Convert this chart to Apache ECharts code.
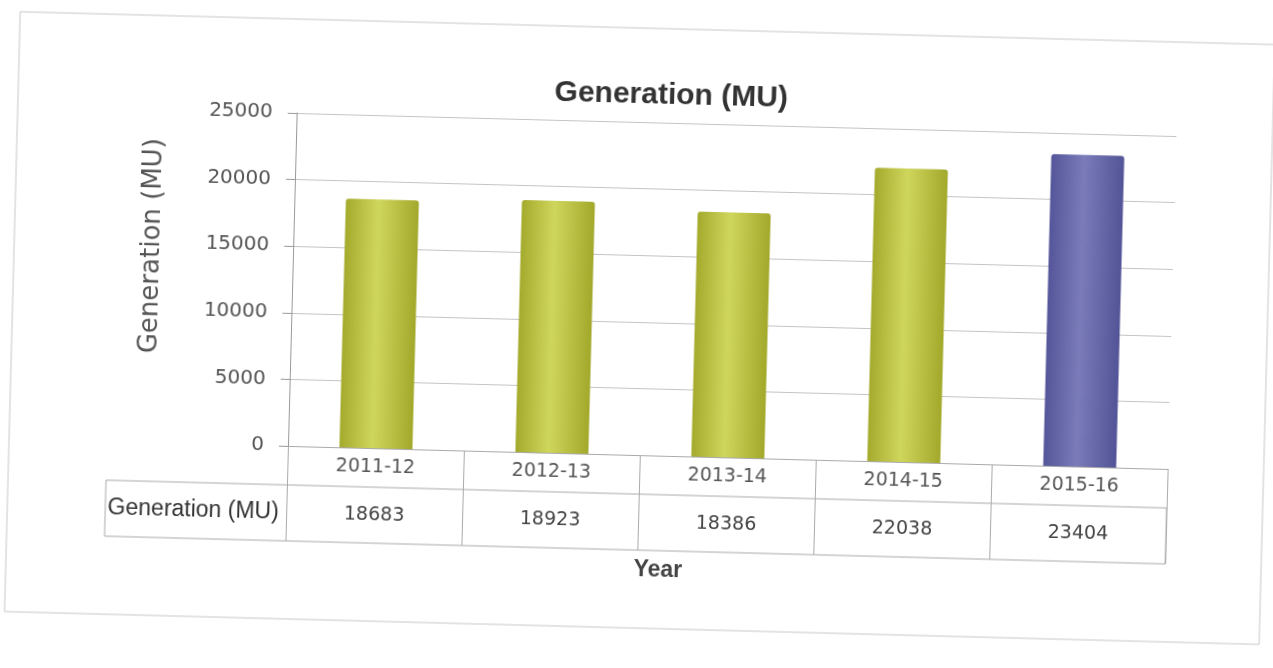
<!DOCTYPE html>
<html>
<head>
<meta charset="utf-8">
<script src="https://cdn.jsdelivr.net/npm/echarts@6/dist/echarts.min.js"></script>
<style>
    html, body { margin: 0; padding: 0; background: #fff; overflow: hidden; }
    #grafico {
        width: 1273px;
        height: 668px;
        transform: rotate(1.5deg);
        transform-origin: 50% 50%;
    }
</style>
</head>
<body>
<div id="grafico"></div>
<script>
const anios = ["2011-12", "2012-13", "2013-14", "2014-15", "2015-16"];
const generacion = [18683, 18923, 18386, 22038, 23404];
const ejeY = { min: 0, max: 25000, interval: 5000 };

const verde = new echarts.graphic.LinearGradient(0, 0, 1, 0, [
    { offset: 0, color: "#a4aa2c" },
    { offset: 0.45, color: "#cfd65c" },
    { offset: 1, color: "#a2a82a" }
]);
const morado = new echarts.graphic.LinearGradient(0, 0, 1, 0, [
    { offset: 0, color: "#55569a" },
    { offset: 0.45, color: "#7a7bb8" },
    { offset: 1, color: "#535497" }
]);

const barras = generacion.map(function(v, i) {
    return {
        value: v,
        itemStyle: { color: i === anios.length - 1 ? morado : verde }
    };
});

const grafico = echarts.init(document.getElementById("grafico"));
grafico.setOption({
    backgroundColor: "#fff",
    animation: false,
    title: {
        text: "Generation (MU)",
        left: 660,
        textAlign: "center",
        top: 75,
        textStyle: { fontFamily: "Liberation Sans", fontSize: 30, fontWeight: "bold", color: "#333" }
    },
    grid: { left: 291, right: 102, top: 122, bottom: 213 },
    xAxis: {
        type: "category",
        data: anios,
        axisLine: { lineStyle: { color: "#aaa", width: 1 } },
        axisTick: { show: true, interval: 0, length: 95, lineStyle: { color: "#aaa" } },
        axisLabel: {
            interval: 0,
            margin: 0,
            formatter: function(valor, i) {
                return "{c|" + valor + "}\n{v|" + generacion[i] + "}";
            },
            rich: {
                c: { fontFamily: "DejaVu Sans", fontSize: 19, color: "#555", lineHeight: 39 },
                v: { fontFamily: "DejaVu Sans", fontSize: 19, color: "#444", lineHeight: 56 }
            }
        }
    },
    yAxis: {
        type: "value",
        min: ejeY.min,
        max: ejeY.max,
        interval: ejeY.interval,
        name: "Generation (MU)",
        nameLocation: "middle",
        nameGap: 128,
        nameTextStyle: { fontFamily: "DejaVu Sans", fontSize: 26, color: "#555", padding: [0, 0, 0, 60] },
        axisLine: { show: true, lineStyle: { color: "#999" } },
        axisTick: { show: true, length: 9, lineStyle: { color: "#999" } },
        axisLabel: {
            margin: 24, fontFamily: "DejaVu Sans", fontSize: 20, color: "#555",
            formatter: function(v) { return String(v); }
        },
        splitLine: { lineStyle: { color: "#c4c4c4", width: 1 } }
    },
    series: [{
        name: "Generation (MU)",
        type: "bar",
        barWidth: 73,
        data: barras,
        itemStyle: { borderRadius: [3, 3, 0, 0] }
    }],
    graphic: [
        {
            type: "rect",
            shape: { x: 110, y: 494, width: 1061, height: 56 },
            style: { fill: null, stroke: "#aaa", lineWidth: 1 }
        },
        {
            type: "text",
            x: 198, y: 522,
            style: {
                text: "Generation (MU)",
                align: "center", verticalAlign: "middle",
                font: "23px 'Liberation Sans'", fill: "#333"
            }
        },
        {
            type: "text",
            x: 664, y: 570,
            style: {
                text: "Year",
                align: "center", verticalAlign: "middle",
                font: "bold 23px 'Liberation Sans'", fill: "#444"
            }
        },
        {
            type: "rect",
            shape: { x: 12, y: 28, width: 1255, height: 600 },
            style: { fill: null, stroke: "#c8c8c8", lineWidth: 1 },
            z: -1
        }
    ]
});
</script>
</body>
</html>
